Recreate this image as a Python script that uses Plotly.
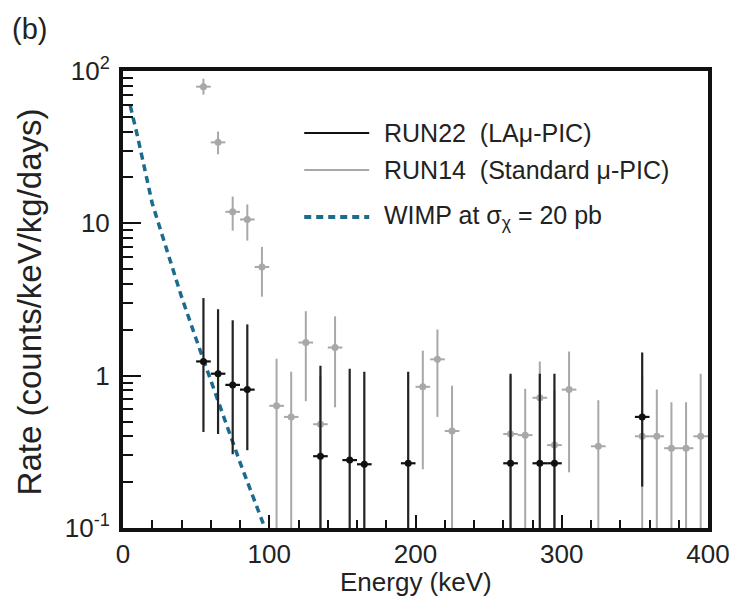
import plotly.graph_objects as go

# ---------------- data ----------------
run22_energy = [55, 65, 75, 85, 135, 155, 165, 195, 265, 285, 295, 355]
run22_rate = [1.24, 1.03, 0.87, 0.81, 0.296, 0.279, 0.262, 0.266, 0.266, 0.266, 0.266, 0.536]
run22_upper = [3.23, 2.73, 2.31, 2.17, 1.16, 1.11, 1.06, 1.06, 1.03, 1.03, 1.03, 1.42]
run22_lower = [0.427, 0.414, 0.305, 0.324, 0, 0, 0, 0, 0, 0, 0, 0.187]
run22_halfbin = [5] * len(run22_energy)

run14_energy = [55, 65, 75, 85, 95, 105, 115, 125, 135, 145, 205, 215, 225,
                265, 275, 285, 295, 305, 325, 355, 365, 375, 385, 395]
run14_rate = [78.9, 34.0, 11.9, 10.6, 5.17, 0.634, 0.536, 1.65, 0.48, 1.53, 0.845, 1.28, 0.433,
              0.414, 0.407, 0.716, 0.35, 0.81, 0.344, 0.40, 0.40, 0.334, 0.334, 0.40]
run14_upper = [89, 40, 15, 13.3, 7.0, 1.29, 1.06, 2.65, 1.0, 2.45, 1.46, 2.01, 0.86,
               1.0, 0.82, 1.24, 0.8, 1.44, 0.69, 1.0, 0.81, 0.67, 0.67, 1.03]
run14_lower = [70, 28.4, 8.95, 7.7, 3.3, 0, 0, 0.68, 0, 0.62, 0.243, 0.536, 0,
               0, 0, 0, 0, 0.232, 0, 0, 0, 0, 0, 0]
run14_halfbin = [5] * len(run14_energy)

wimp_energy = [5, 10, 20, 30, 40, 50, 60, 70, 80, 90, 97]
wimp_rate = [59, 37, 13.5, 6.6, 3.3, 1.74, 0.95, 0.50, 0.27, 0.148, 0.1]

y_tickvals = [0.1, 1, 10, 100]
y_ticktext = ["10<sup>-1</sup>", "1", "10", "10<sup>2</sup>"]
x_tickvals = [0, 100, 200, 300, 400]

legend_labels = ["RUN22  (LAμ-PIC)", "RUN14  (Standard μ-PIC)", "WIMP at σ<sub>χ</sub> = 20 pb"]

# ---------------- style ----------------
FONT = "Liberation Sans, Arial, sans-serif"
BLACK = "#111111"
GRAY = "#a8a8a8"
TEAL = "#1c6a8c"
TXT = "#222222"

fig = go.Figure()

fig.add_trace(go.Scatter(
    x=run14_energy, y=run14_rate, mode="markers",
    marker=dict(color=GRAY, size=7),
    error_x=dict(type="data", array=run14_halfbin, width=0, thickness=2, color=GRAY),
    error_y=dict(type="data", symmetric=False,
                 array=[u - r for u, r in zip(run14_upper, run14_rate)],
                 arrayminus=[r - l for r, l in zip(run14_rate, run14_lower)],
                 width=0, thickness=2, color=GRAY),
    showlegend=False, hoverinfo="x+y"))

fig.add_trace(go.Scatter(
    x=wimp_energy, y=wimp_rate, mode="lines",
    line=dict(color=TEAL, width=3.5, dash="7px,5px"),
    showlegend=False))

fig.add_trace(go.Scatter(
    x=run22_energy, y=run22_rate, mode="markers",
    marker=dict(color=BLACK, size=7),
    error_x=dict(type="data", array=run22_halfbin, width=0, thickness=2.2, color=BLACK),
    error_y=dict(type="data", symmetric=False,
                 array=[u - r for u, r in zip(run22_upper, run22_rate)],
                 arrayminus=[r - l for r, l in zip(run22_rate, run22_lower)],
                 width=0, thickness=2.2, color="#222222"),
    showlegend=False, hoverinfo="x+y"))

# the page body has an 8px default margin, so the figure is drawn 8px in from the window corner
OFF = 8
W, H = 742 - OFF, 598 - OFF
# plot frame (window pixels): left 123, right 717, top 71, bottom 528
ML, MR, MT, MB = 123 - OFF, 742 - 717, 71 - OFF, 598 - 528
PW, PH = W - ML - MR, H - MT - MB


def px(xw):
    return (xw - OFF - ML) / PW


def py(yw):
    return (H - MB - (yw - OFF)) / PH


shapes = []
annotations = []
legend_rows = [(133, dict(color=BLACK, width=2, dash="solid")),
               (170, dict(color=GRAY, width=2, dash="solid")),
               (217, dict(color=TEAL, width=4, dash="7px,5px"))]
for (yy, ln), lab in zip(legend_rows, legend_labels):
    shapes.append(dict(type="line", xref="paper", yref="paper",
                       x0=px(307), x1=px(373), y0=py(yy), y1=py(yy), line=ln))
    annotations.append(dict(xref="paper", yref="paper", x=px(386), y=py(yy),
                            xanchor="left", yanchor="middle", showarrow=False,
                            text=lab, font=dict(family=FONT, size=25, color=TXT)))

annotations.append(dict(xref="paper", yref="paper", x=px(420), y=py(582),
                        xanchor="center", yanchor="middle", showarrow=False,
                        text="Energy (keV)", font=dict(family=FONT, size=26, color=TXT)))
annotations.append(dict(xref="paper", yref="paper", x=px(28), y=py(302),
                        xanchor="center", yanchor="middle", showarrow=False, textangle=-90,
                        text="Rate (counts/keV/kg/days)", font=dict(family=FONT, size=33, color=TXT)))
annotations.append(dict(xref="paper", yref="paper", x=px(8), y=py(29),
                        xanchor="left", yanchor="middle", showarrow=False,
                        text="(b)", font=dict(family=FONT, size=29, color=TXT)))

fig.update_layout(
    width=W, height=H,
    margin=dict(l=ML, r=MR, t=MT, b=MB),
    paper_bgcolor="white", plot_bgcolor="white",
    font=dict(family=FONT, size=26, color=TXT),
    shapes=shapes, annotations=annotations,
    showlegend=False,
)

fig.update_xaxes(
    range=[0, 400], tickvals=x_tickvals, ticks="inside", ticklen=13, tickwidth=2,
    tickcolor=BLACK, showline=True, linewidth=4, linecolor=BLACK, mirror=True,
    showgrid=False, zeroline=False,
    tickfont=dict(family=FONT, size=26, color=TXT),
    minor=dict(dtick=20, ticks="inside", ticklen=8, tickwidth=1.5, tickcolor=BLACK, showgrid=False),
)
fig.update_yaxes(
    type="log", range=[-1, 2], tickvals=y_tickvals, ticktext=y_ticktext,
    ticks="inside", ticklen=18, tickwidth=2, tickcolor=BLACK,
    showline=True, linewidth=4, linecolor=BLACK, mirror=True,
    showgrid=False, zeroline=False, ticklabelstandoff=4,
    tickfont=dict(family=FONT, size=26, color=TXT),
    minor=dict(dtick="D1", ticks="inside", ticklen=10, tickwidth=1.5, tickcolor=BLACK, showgrid=False),
)

fig.write_html("out.html")
